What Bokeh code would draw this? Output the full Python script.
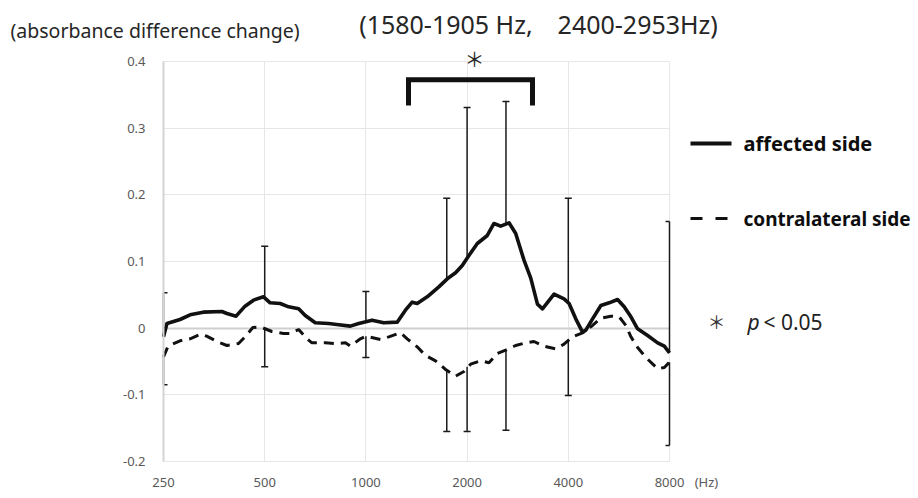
import numpy as np
from bokeh.plotting import figure
from bokeh.models import (FixedTicker, CustomJSTickFormatter, Label, Grid)
from bokeh.embed import file_html
from bokeh.resources import INLINE

# ---------------- data ----------------
affected_freq = [250, 256, 280, 300, 328, 373, 386, 411, 437, 463, 496, 519, 556, 589,
                 631, 660, 707, 775, 830, 899, 952, 1043, 1130, 1239, 1311, 1373, 1421,
                 1522, 1648, 1746, 1848, 1935, 2025, 2145, 2297, 2404, 2517, 2665, 2790,
                 2953, 3093, 3238, 3352, 3628, 3885, 4022, 4210, 4410, 4510, 4723, 5000,
                 5293, 5606, 5865, 6143, 6430, 6887, 7376, 7721, 8000]
affected_val = [-0.013, 0.007, 0.013, 0.020, 0.024, 0.025, 0.022, 0.018, 0.033, 0.042,
                0.047, 0.038, 0.037, 0.032, 0.029, 0.019, 0.008, 0.007, 0.005, 0.003,
                0.007, 0.012, 0.008, 0.009, 0.027, 0.039, 0.037, 0.047, 0.062, 0.074,
                0.083, 0.094, 0.109, 0.127, 0.139, 0.157, 0.153, 0.158, 0.142, 0.102,
                0.075, 0.036, 0.029, 0.051, 0.044, 0.037, 0.014, -0.006, -0.003, 0.014,
                0.034, 0.038, 0.043, 0.032, 0.017, -0.001, -0.011, -0.022, -0.027, -0.037]

contra_freq = [250, 258, 280, 300, 323, 336, 364, 386, 418, 437, 461, 485, 525, 569,
               595, 631, 668, 691, 757, 811, 869, 899, 963, 1000, 1105, 1170, 1267, 1327,
               1421, 1504, 1611, 1726, 1848, 1957, 2049, 2195, 2323, 2461, 2605, 2790,
               2988, 3162, 3387, 3670, 3885, 4118, 4410, 4723, 5000, 5355, 5668, 5935,
               6143, 6430, 6807, 7376, 7721, 8000]
contra_val = [-0.043, -0.027, -0.019, -0.016, -0.009, -0.012, -0.021, -0.026, -0.023,
              -0.013, 0.001, 0.002, -0.005, -0.008, -0.008, -0.002, -0.016, -0.022,
              -0.022, -0.023, -0.022, -0.027, -0.016, -0.012, -0.017, -0.013, -0.007,
              -0.016, -0.028, -0.041, -0.049, -0.062, -0.072, -0.065, -0.054, -0.049,
              -0.052, -0.038, -0.033, -0.026, -0.022, -0.020, -0.027, -0.031, -0.024,
              -0.013, -0.007, 0.004, 0.015, 0.018, 0.017, 0.004, -0.013, -0.029, -0.044,
              -0.061, -0.059, -0.051]

err_freq = [250, 500, 1000, 1740, 2000, 2610, 4000, 8000]
aff_err_base = [-0.013, 0.047, 0.010, 0.073, 0.107, 0.156, 0.037, -0.037]
aff_err_top = [0.053, 0.123, 0.055, 0.195, 0.331, 0.340, 0.195, 0.160]
con_err_base = [-0.043, 0.001, -0.012, -0.063, -0.058, -0.033, -0.018, -0.051]
con_err_bottom = [-0.085, -0.058, -0.044, -0.155, -0.155, -0.153, -0.101, -0.176]

x_ticks = [250, 500, 1000, 2000, 4000, 8000]
y_ticks = [-0.2, -0.1, 0, 0.1, 0.2, 0.3, 0.4]
x_lim = (250, 8000)
y_lim = (-0.2, 0.4)

sig_band = [1339, 3130]   # significance bracket span (Hz)

# ---------------- layout constants (page pixels) ----------------
AX_LEFT = 163          # pixel of 250 Hz
AX_BOTTOM = 461        # pixel of -0.2
FRAME_BOTTOM = 472
RIGHT_PX = 916
PX_PER_OCT = 101.2
PX_PER_UNIT = 666.7


def xd(px):
    return 250 * 2 ** ((px - AX_LEFT) / PX_PER_OCT)


def yd(py):
    return -0.2 + (AX_BOTTOM - py) / PX_PER_UNIT


hz_tick = xd(706)

# ---------------- figure ----------------
p = figure(x_axis_type="log", x_range=(xd(0), xd(RIGHT_PX)),
           y_range=(yd(FRAME_BOTTOM), yd(0)),
           frame_width=RIGHT_PX, frame_height=FRAME_BOTTOM,
           min_border_left=0, min_border_right=0, min_border_top=0,
           min_border_bottom=20, output_backend="svg", toolbar_location=None)
p.outline_line_color = None
p.background_fill_color = "white"

p.xgrid.ticker = FixedTicker(ticks=x_ticks)
p.ygrid.ticker = FixedTicker(ticks=y_ticks)
p.xgrid.cross_bounds = y_lim
p.ygrid.cross_bounds = x_lim
for g in (p.xgrid, p.ygrid):
    g.grid_line_color = "#e6e6e6"
    g.grid_line_width = 1
zero_grid = Grid(dimension=1, ticker=FixedTicker(ticks=[0]), cross_bounds=x_lim,
                 grid_line_color="#cfcfcf", grid_line_width=2)
p.add_layout(zero_grid)

p.xaxis.ticker = FixedTicker(ticks=x_ticks + [hz_tick])
p.xaxis.formatter = CustomJSTickFormatter(
    args=dict(hz=hz_tick),
    code="return Math.abs(tick - hz) < 1 ? '(Hz)' : tick.toFixed(0);")
p.yaxis.ticker = FixedTicker(ticks=y_ticks)
p.yaxis.formatter = CustomJSTickFormatter(
    code="return Math.abs(tick) < 1e-9 ? '0' : tick.toFixed(1);")
p.yaxis.bounds = y_lim
p.yaxis.fixed_location = 250
for ax in (p.xaxis, p.yaxis):
    ax.major_tick_line_color = None
    ax.minor_tick_line_color = None
    ax.major_tick_out = 0
    ax.major_tick_in = 0
    ax.minor_tick_out = 0
    ax.minor_tick_in = 0
    ax.major_label_text_font = "Noto Sans"
    ax.major_label_text_font_size = "13px"
    ax.major_label_text_color = "#595959"
p.xaxis.axis_line_color = None
p.xaxis.major_label_standoff = 0
p.yaxis.axis_line_color = "#d4d4d4"
p.yaxis.axis_line_width = 2
p.yaxis.major_label_standoff = 18

# error bars
ink = "#1a1a1a"
p.segment(x0=err_freq, y0=aff_err_base, x1=err_freq, y1=aff_err_top,
          line_color=ink, line_width=1.5)
p.segment(x0=err_freq, y0=con_err_base, x1=err_freq, y1=con_err_bottom,
          line_color=ink, line_width=1.5)
p.scatter(x=err_freq[1:-1], y=aff_err_top[1:-1], marker="dash", size=7,
          line_color=ink, line_width=1.5)
p.scatter(x=err_freq[1:-1], y=con_err_bottom[1:-1], marker="dash", size=7,
          line_color=ink, line_width=1.5)
# half caps at the plot edges, like the original
for idx, side in ((0, 1), (-1, -1)):
    f = err_freq[idx]
    f2 = f * 2 ** (side * 4 / PX_PER_OCT)
    p.segment(x0=[f, f], y0=[aff_err_top[idx], con_err_bottom[idx]],
              x1=[f2, f2], y1=[aff_err_top[idx], con_err_bottom[idx]],
              line_color=ink, line_width=1.5)

# curves
p.line(affected_freq, affected_val, line_color="#111111", line_width=3.6,
       line_join="round")
p.line(contra_freq, contra_val, line_color="#111111", line_width=3,
       line_dash="10 7")

# significance bracket
p.line([sig_band[0], sig_band[0], sig_band[1], sig_band[1]],
       [0.334, 0.3726, 0.3726, 0.334], line_color="#111111", line_width=5,
       line_join="miter")


def add_text(txt, px, py, size, align="left", color="#262626", style="normal",
             font="Noto Sans"):
    p.add_layout(Label(x=xd(px), y=yd(py), text=txt, text_align=align,
                       text_baseline="middle", text_font=font,
                       text_font_size=size, text_color=color,
                       text_font_style=style))


add_text("(absorbance difference change)", 10, 30, "19.5px")
add_text("(1580-1905 Hz,\u30002400-2953Hz)", 538, 23, "25px", align="center")
add_text("\uff0a", 474, 58, "20px", align="center", font="Noto Sans CJK JP")

# legend
p.line([xd(690), xd(731)], [yd(143), yd(143)], line_color="#111111", line_width=4)
p.line([xd(690), xd(728)], [yd(218), yd(218)], line_color="#111111", line_width=3,
       line_dash="12 13")
add_text("affected side", 743, 143, "20px", color="#0d0d0d", style="bold")
add_text("contralateral side", 743, 218, "19px", color="#0d0d0d", style="bold")
add_text("\uff0a", 716, 320, "18px", align="center", color="#333333",
         font="Noto Sans CJK JP")
add_text("p", 747, 321, "21px", style="italic", color="#222222")
add_text("< 0.05", 763, 321, "21px", color="#222222")

open("out.html", "w").write(file_html(p, INLINE))
